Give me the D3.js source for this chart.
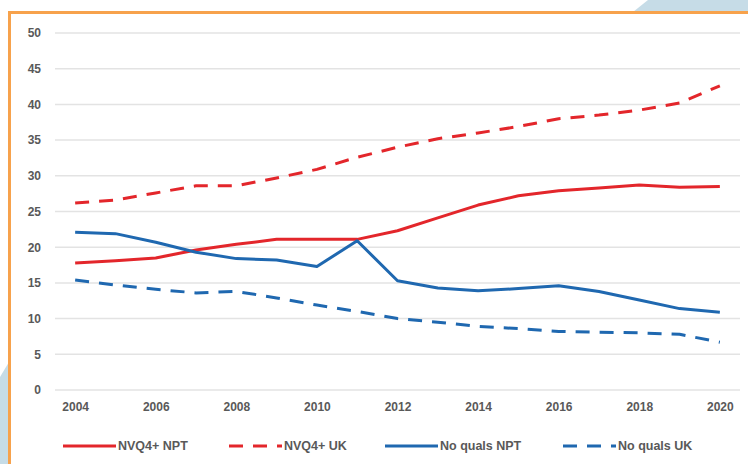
<!DOCTYPE html>
<meta charset="utf-8">
<script src="https://cdn.jsdelivr.net/npm/d3@7"></script>
<style>
body { margin: 0; background: #fff; }
text { font-family: "Liberation Sans", Arial, sans-serif; fill: #595959; }
.grid line { stroke: #e3e3e3; stroke-width: 1.5px; }
.line { fill: none; stroke-width: 3px; stroke-linejoin: round; }
</style>
<body>
<script>

// data
var years = [2004, 2005, 2006, 2007, 2008, 2009, 2010, 2011, 2012, 2013, 2014, 2015, 2016, 2017, 2018, 2019, 2020];
var nvq4Npt = [17.8, 18.1, 18.5, 19.6, 20.4, 21.1, 21.1, 21.1, 22.3, 24.1, 25.9, 27.2, 27.9, 28.3, 28.7, 28.4, 28.5];
var nvq4Uk = [26.2, 26.6, 27.6, 28.6, 28.6, 29.7, 30.9, 32.6, 34.0, 35.2, 36.0, 36.9, 38.0, 38.5, 39.2, 40.2, 42.6];
var noQualsNpt = [22.1, 21.9, 20.7, 19.3, 18.4, 18.2, 17.3, 20.9, 15.3, 14.3, 13.9, 14.2, 14.6, 13.8, 12.6, 11.4, 10.9];
var noQualsUk = [15.4, 14.7, 14.1, 13.6, 13.8, 12.9, 11.9, 11.0, 10.0, 9.5, 8.9, 8.6, 8.2, 8.1, 8.0, 7.8, 6.7];
var yTicks = [0, 5, 10, 15, 20, 25, 30, 35, 40, 45, 50];
var xTickYears = [2004, 2006, 2008, 2010, 2012, 2014, 2016, 2018, 2020];

var series = [
  { name: "NVQ4+ NPT", values: nvq4Npt, color: "#e3262b", dash: null },
  { name: "NVQ4+ UK", values: nvq4Uk, color: "#e3262b", dash: "14,10" },
  { name: "No quals NPT", values: noQualsNpt, color: "#1f68b0", dash: null },
  { name: "No quals UK", values: noQualsUk, color: "#1f68b0", dash: "14,10" }
];

var W = 748, H = 464;
var svg = d3.select("body").append("svg")
    .attr("width", W)
    .attr("height", H);

// decoration: light blue corners and orange frame
svg.append("polygon")
    .attr("points", "633,12 648,0 748,0 748,12")
    .attr("fill", "#c6dce7");
svg.append("polygon")
    .attr("points", "0,377 9,362 9,464 0,464")
    .attr("fill", "#c6dce7");
svg.append("path")
    .attr("d", "M9.5,464 V12.5 H748")
    .attr("fill", "none")
    .attr("stroke", "#f7a24c")
    .attr("stroke-width", 3);

// scales
var x = d3.scalePoint().domain(years).range([55, 740]).padding(0.5);
var y = d3.scaleLinear().domain([0, 50]).range([390, 33]);

// gridlines
svg.append("g")
    .attr("class", "grid")
  .selectAll("line")
    .data(yTicks)
  .enter().append("line")
    .attr("x1", 55)
    .attr("x2", 740)
    .attr("y1", function(d) { return y(d); })
    .attr("y2", function(d) { return y(d); });

// y axis
var yAxis = svg.append("g")
    .attr("transform", "translate(52,0)")
    .call(d3.axisLeft(y).tickValues(yTicks).tickSize(0).tickPadding(11));
yAxis.select(".domain").remove();
yAxis.selectAll("text").style("font-size", "12px").style("font-weight", "bold");

// x axis
var xAxis = svg.append("g")
    .attr("transform", "translate(0,398)")
    .call(d3.axisBottom(x).tickValues(xTickYears).tickFormat(d3.format("d")).tickSize(0).tickPadding(4));
xAxis.select(".domain").remove();
xAxis.selectAll("text").style("font-size", "12px").style("font-weight", "bold");

// lines
var line = d3.line()
    .x(function(d, i) { return x(years[i]); })
    .y(function(d) { return y(d); });

series.forEach(function(s) {
  svg.append("path")
      .datum(s.values)
      .attr("class", "line")
      .style("stroke", s.color)
      .style("stroke-dasharray", s.dash)
      .attr("d", line);
});

// legend
var legendX = [63, 229, 385, 563];
var legend = svg.append("g").attr("transform", "translate(0,446)");
series.forEach(function(s, i) {
  var g = legend.append("g").attr("transform", "translate(" + legendX[i] + ",0)");
  g.append("line")
      .attr("x1", 0).attr("x2", 53)
      .attr("stroke", s.color)
      .attr("stroke-width", 3)
      .style("stroke-dasharray", s.dash ? "14,10" : null);
  g.append("text")
      .attr("x", 55)
      .attr("dy", "0.35em")
      .style("font-size", "12.5px")
      .style("font-weight", "bold")
      .text(s.name);
});

</script>
</body>
